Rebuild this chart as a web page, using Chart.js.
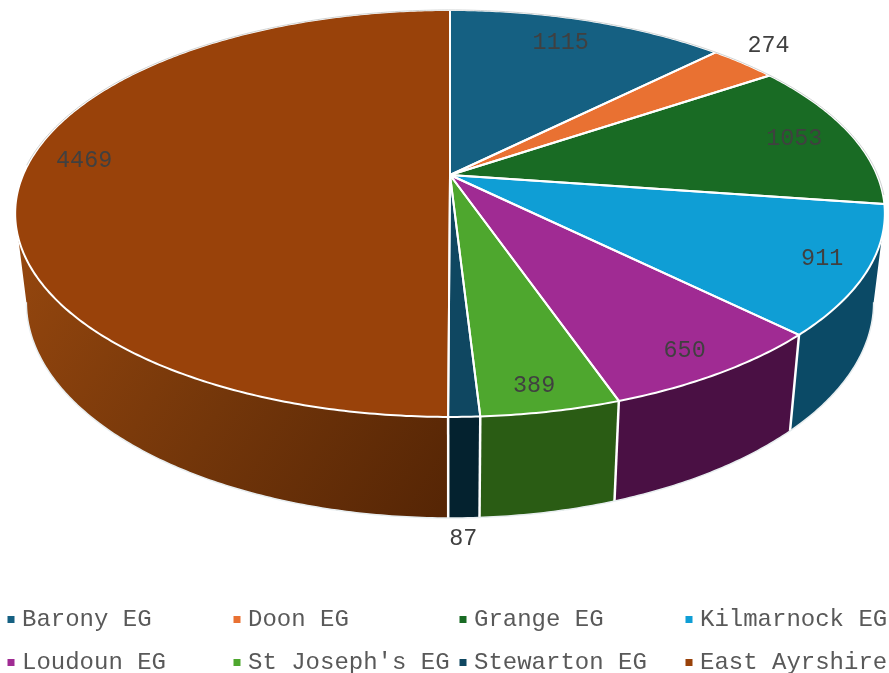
<!DOCTYPE html>
<html lang="en">
<head>
<meta charset="UTF-8">
<title>East Ayrshire</title>
<script src="https://cdn.jsdelivr.net/npm/chart.js"></script>
<style>
html, body { margin: 0; padding: 0; background: #fff; }
canvas { display: block; }
</style>
</head>
<body>
<canvas id="pieChart" width="889" height="673"></canvas>
<script>
const categories = ['Barony EG', 'Doon EG', 'Grange EG', 'Kilmarnock EG', 'Loudoun EG', "St Joseph's EG", 'Stewarton EG', 'East Ayrshire'];
const values = [1115, 274, 1053, 911, 650, 389, 87, 4469];

const topColors = ['#156082', '#E97132', '#196B24', '#0F9ED5', '#A02B93', '#4EA72E', '#0F4761', '#99420A'];
const wallColors = ['#0A3A50', '#8C4416', '#0F4016', '#0B4A66', '#4A1044', '#2A5C14', '#04222F', '#7A3A0A'];

// where each value label sits, relative to the rim point at the middle of its slice
const labelOffsets = [[-28, 22], [25, -18], [-55, 6], [-45, -12], [-35, -22], [-17, -26], [-1, 122], [61, -14]];

// perspective of the top and bottom discs
const topDisc = { cx: 450, cy: 175, a: 427, b: 196.2, p: 0.189 };
const bottomDisc = { cx: 450, cy: 261.5, a: 416, b: 208, p: 0.189 };
const wallStart = 0.19; // the wall silhouette, in radians from the horizontal
const wallEnd = Math.PI - 0.19;

function project(disc, angle) {
    const u = Math.cos(angle), v = Math.sin(angle);
    const w = 1 - disc.p * v;
    return { x: disc.cx + disc.a * u / w, y: disc.cy + disc.b * v / w };
}

function arcPoints(disc, start, end) {
    const steps = Math.max(2, Math.ceil((end - start) / 0.01));
    const pts = [];
    for (let i = 0; i <= steps; i++) {
        pts.push(project(disc, start + (end - start) * i / steps));
    }
    return pts;
}

function tracePath(ctx, pts) {
    ctx.moveTo(pts[0].x, pts[0].y);
    for (let i = 1; i < pts.length; i++) ctx.lineTo(pts[i].x, pts[i].y);
}

function slicePoints(arc) {
    return [{ x: topDisc.cx, y: topDisc.cy }].concat(arcPoints(topDisc, arc.startAngle, arc.endAngle));
}

const pie3d = {
    id: 'pie3d',
    beforeDatasetDraw() {
        return false; // the arcs are drawn in perspective below
    },
    afterDatasetsDraw(chart) {
        const ctx = chart.ctx;
        const arcs = chart.getDatasetMeta(0).data;
        ctx.save();
        ctx.lineJoin = 'round';

        // side walls, only the part facing the viewer
        arcs.forEach((arc, i) => {
            const start = Math.max(arc.startAngle, wallStart);
            const end = Math.min(arc.endAngle, wallEnd);
            if (end <= start) return;
            const upper = arcPoints(topDisc, start, end);
            const lower = arcPoints(bottomDisc, start, end).reverse();
            ctx.beginPath();
            tracePath(ctx, upper.concat(lower));
            ctx.closePath();
            if (i === arcs.length - 1) {
                const g = ctx.createLinearGradient(20, 250, 450, 518);
                g.addColorStop(0, '#94460E');
                g.addColorStop(0.5, '#73360A');
                g.addColorStop(1, '#552505');
                ctx.fillStyle = g;
            } else {
                ctx.fillStyle = wallColors[i];
            }
            ctx.fill();
        });

        // white separators and lower edge of the walls
        ctx.strokeStyle = '#fff';
        ctx.lineWidth = 2.5;
        arcs.forEach(arc => {
            if (Math.sin(arc.startAngle) > 0.3) {
                const a = project(topDisc, arc.startAngle), b = project(bottomDisc, arc.startAngle);
                ctx.beginPath();
                ctx.moveTo(a.x, a.y);
                ctx.lineTo(b.x, b.y);
                ctx.stroke();
            }
        });
        ctx.lineWidth = 1.5;
        ctx.strokeStyle = '#e8eef0';
        ctx.beginPath();
        tracePath(ctx, arcPoints(bottomDisc, wallStart, wallEnd));
        ctx.stroke();

        // top faces
        arcs.forEach((arc, i) => {
            ctx.beginPath();
            tracePath(ctx, slicePoints(arc));
            ctx.closePath();
            ctx.fillStyle = topColors[i];
            ctx.fill();
        });
        ctx.strokeStyle = '#fff';
        ctx.lineWidth = 2;
        arcs.forEach(arc => {
            ctx.beginPath();
            tracePath(ctx, slicePoints(arc));
            ctx.closePath();
            ctx.stroke();
        });
        // thin grey edge on the far side of the rim
        ctx.strokeStyle = '#c4c8c8';
        ctx.lineWidth = 0.8;
        ctx.beginPath();
        tracePath(ctx, arcPoints({ ...topDisc, a: topDisc.a + 0.8 }, Math.PI + 0.05, 2 * Math.PI + 0.1));
        ctx.stroke();

        // value labels
        ctx.font = '23.4px "Liberation Mono"';
        ctx.fillStyle = '#404040';
        ctx.textAlign = 'center';
        ctx.textBaseline = 'middle';
        arcs.forEach((arc, i) => {
            const rim = project(topDisc, (arc.startAngle + arc.endAngle) / 2);
            ctx.fillText(String(values[i]), rim.x + labelOffsets[i][0], rim.y + labelOffsets[i][1]);
        });
        ctx.restore();
    },
    afterDraw(chart) {
        // legend, four even columns on two rows
        const ctx = chart.ctx;
        ctx.save();
        ctx.font = '24px "Liberation Mono"';
        ctx.textAlign = 'left';
        ctx.textBaseline = 'middle';
        categories.forEach((name, i) => {
            const x = 7.5 + 226 * (i % 4);
            const y = 619.5 + 43 * Math.floor(i / 4);
            ctx.fillStyle = topColors[i];
            ctx.fillRect(x, y - 3.5, 7, 7);
            ctx.fillStyle = '#595959';
            ctx.fillText(name, x + 14.5, y);
        });
        ctx.restore();
    }
};

new Chart(document.getElementById('pieChart'), {
    type: 'pie',
    data: {
        labels: categories,
        datasets: [{ data: values, backgroundColor: topColors }]
    },
    options: {
        responsive: false,
        animation: false,
        plugins: { legend: { display: false }, tooltip: { enabled: false } }
    },
    plugins: [pie3d]
});
</script>
</body>
</html>
